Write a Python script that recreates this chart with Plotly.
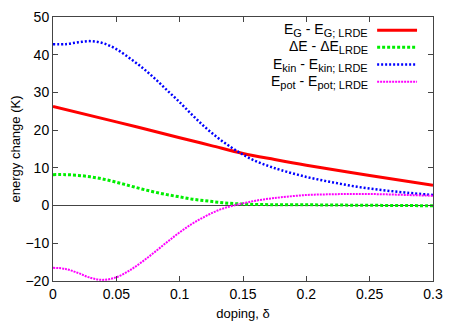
import plotly.graph_objects as go

doping_g = [0.0, 0.05, 0.1, 0.125, 0.15, 0.175, 0.2, 0.25, 0.3]
e_g = [26.3, 22.2, 18.0, 15.9, 13.8, 12.2, 10.7, 8.0, 5.4]

doping = [0.0, 0.01, 0.02, 0.03, 0.04, 0.05, 0.06, 0.07, 0.08, 0.09, 0.10, 0.11, 0.12, 0.13, 0.14, 0.15,
          0.16, 0.17, 0.18, 0.20, 0.22, 0.24, 0.26, 0.28, 0.30]
d_e = [8.2, 8.2, 8.0, 7.6, 7.0, 6.2, 5.3, 4.4, 3.6, 2.9, 2.3, 1.7, 1.3, 0.9, 0.6, 0.4,
       0.3, 0.25, 0.2, 0.2, 0.15, 0.1, 0.05, 0.0, -0.05]
e_kin = [42.8, 42.8, 43.3, 43.6, 43.0, 41.5, 39.2, 36.7, 33.8, 30.6, 27.4, 24.0, 20.8, 18.0, 15.6, 13.5,
         11.8, 10.5, 9.4, 7.6, 6.2, 5.0, 4.1, 3.4, 2.8]
e_pot = [-16.5, -16.8, -17.9, -19.2, -19.7, -19.0, -17.3, -15.0, -12.4, -9.7, -7.1, -4.8, -2.9, -1.3, -0.2, 0.6,
         1.3, 1.8, 2.2, 2.8, 3.0, 3.1, 3.0, 2.8, 2.6]

x_ticks = [0, 0.05, 0.1, 0.15, 0.2, 0.25, 0.3]
y_ticks = [-20, -10, 0, 10, 20, 30, 40, 50]


def sub(t):
    return '<sub><span style="font-size:11px">' + t + '</span></sub>'


series = [
    ("E" + sub("G") + " - E" + sub("G; LRDE"), doping_g, e_g, "#ff0000", "solid", 3),
    ("ΔE - ΔE" + sub("LRDE"), doping, d_e, "#00ee00", "3px,2px", 3),
    ("E" + sub("kin") + " - E" + sub("kin; LRDE"), doping, e_kin, "#0000ff", "2px,2px", 2.5),
    ("E" + sub("pot") + " - E" + sub("pot; LRDE"), doping, e_pot, "#ff00ff", "2px,1px", 2),
]

fig = go.Figure()
for name, xs, ys, color, dash, w in series:
    fig.add_trace(go.Scatter(x=xs, y=ys, mode="lines", name=name,
                             line=dict(color=color, dash=dash, width=w, shape="spline", smoothing=1.0),
                             showlegend=False))

# legend (text right-aligned, sample line to the right) in paper coordinates
leg_y = [0.95, 0.885, 0.82, 0.755]
for (name, xs, ys, color, dash, w), yy in zip(series, leg_y):
    fig.add_annotation(xref="paper", yref="paper", x=0.835, y=yy, text=name, showarrow=False,
                       xanchor="right", yanchor="middle", font=dict(size=14, color="black"))
    fig.add_shape(type="line", xref="paper", yref="paper", x0=0.853, x1=0.958, y0=yy, y1=yy,
                  line=dict(color=color, dash=dash, width=w))

# page body has an 8px default margin, so the figure is offset by 8px
fig.update_layout(
    width=459, height=319,
    margin=dict(l=45, r=34, t=9, b=46),
    paper_bgcolor="white", plot_bgcolor="white",
    font=dict(family="Liberation Sans, Arial, sans-serif", size=14, color="black"),
)
fig.update_xaxes(range=[0, 0.3], tickvals=x_ticks, ticks="inside", ticklen=5, tickcolor="#444",
                 showline=True, linecolor="#444", linewidth=1, mirror="ticks", showgrid=False,
                 zeroline=False, automargin=False,
                 title=dict(text="doping, δ", standoff=8, font=dict(size=13)))
fig.update_yaxes(range=[-20, 50], tickvals=y_ticks, ticks="inside", ticklen=5, tickcolor="#444",
                 showline=True, linecolor="#444", linewidth=1, mirror="ticks", showgrid=False,
                 zeroline=True, zerolinecolor="#444", zerolinewidth=1, automargin=False,
                 title=dict(text="energy change (K)", standoff=4, font=dict(size=13)))

fig.write_html("out.html")
